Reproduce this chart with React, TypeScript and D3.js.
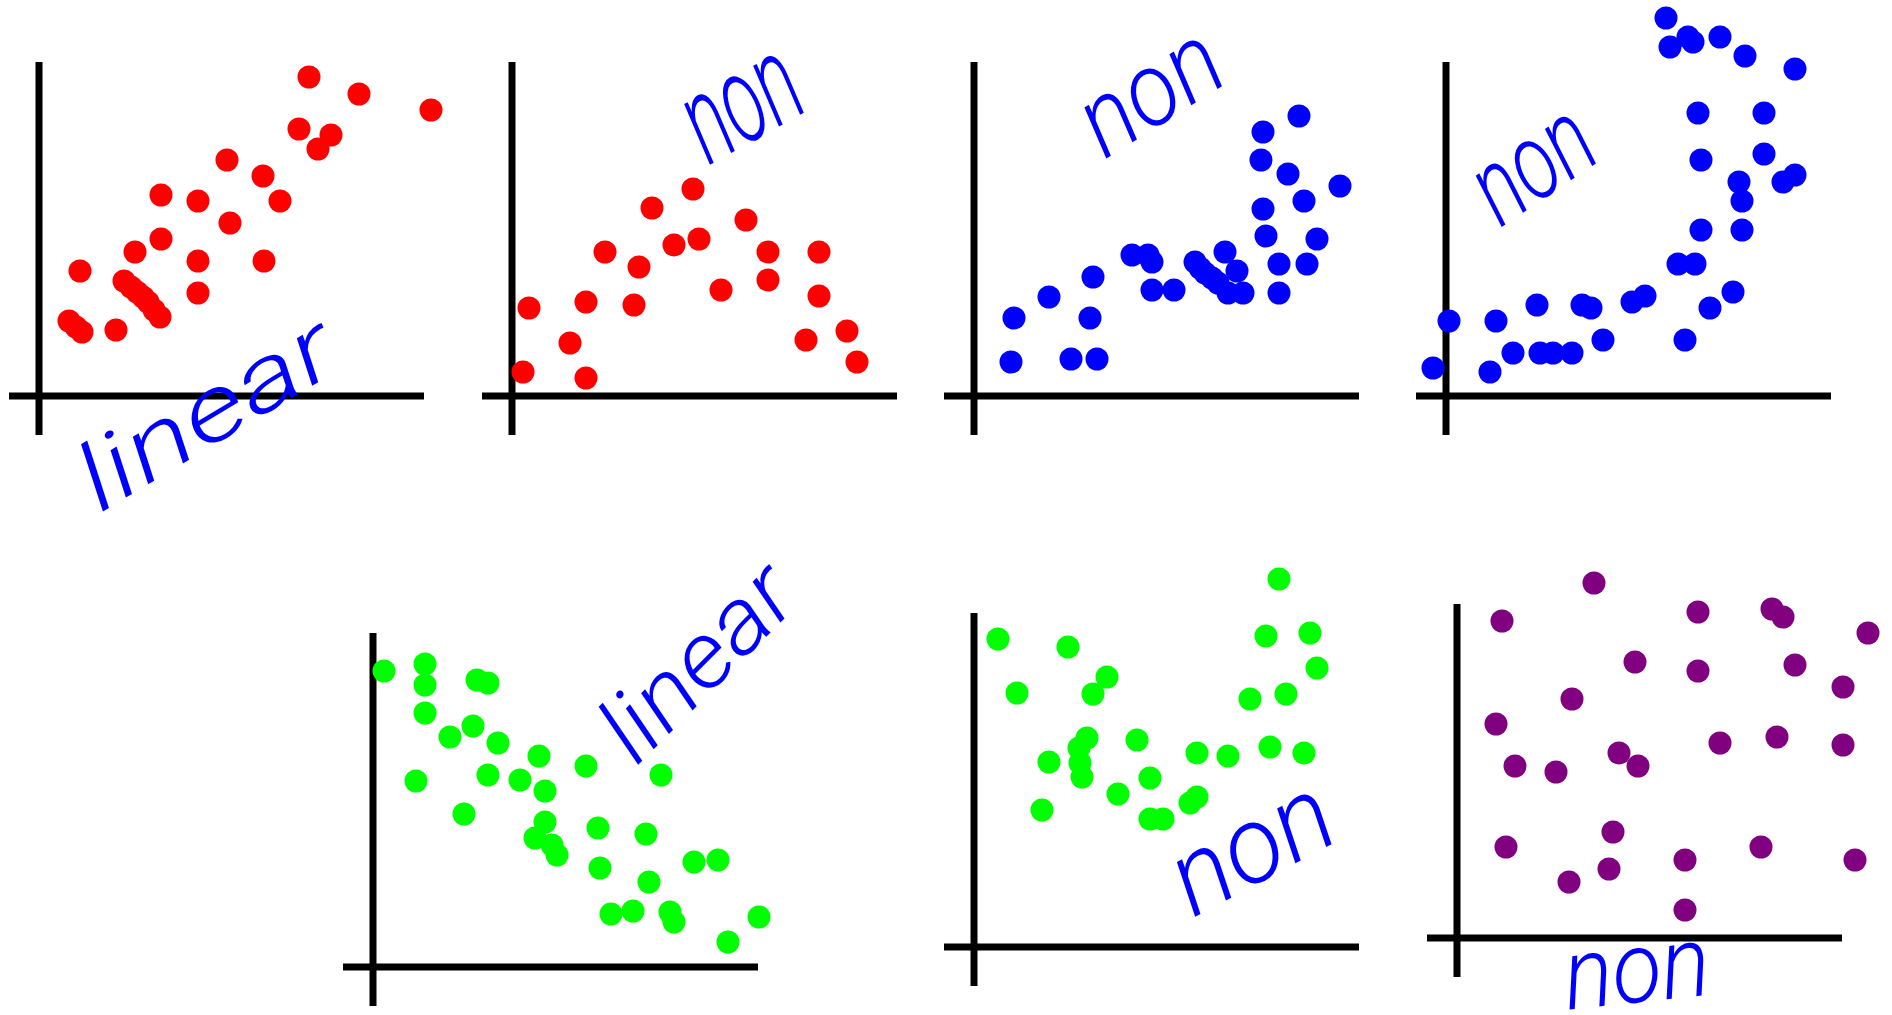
import React, { useEffect } from "react";
import * as d3 from "d3";

type Pt = [number, number];

// Values: offsets from each panel's axis origin (x right, y up)
const linearUp: Pt[] = [
  [270, 319], [320, 302], [392, 286], [260, 267], [292, 261], [279, 247], [188, 236],
  [224, 220], [122, 201], [159, 195], [241, 195], [191, 173], [122, 157], [96, 144],
  [159, 135], [225, 135], [41, 125], [85, 115], [92, 109], [98, 104], [104, 99], [109, 94],
  [115, 86], [121, 79], [159, 103], [30, 75], [37, 69], [43, 64], [77, 66],
];

const humpDown: Pt[] = [
  [181, 207], [140, 188], [234, 176], [162, 151], [187, 157], [93, 144], [256, 144],
  [307, 144], [127, 129], [209, 106], [256, 116], [74, 94], [122, 91], [307, 100],
  [17, 88], [58, 53], [294, 56], [335, 65], [345, 34], [11, 24], [74, 18],
];

const curveUp: Pt[] = [
  [325, 280], [289, 264], [287, 236], [314, 222], [366, 210], [330, 195], [289, 187],
  [292, 160], [343, 157], [305, 132], [333, 132], [305, 103], [251, 144], [263, 125],
  [158, 141], [174, 141], [178, 134], [221, 134], [226, 128], [231, 123], [238, 118],
  [244, 113], [254, 103], [269, 103], [178, 106], [200, 106], [119, 119], [75, 99],
  [40, 78], [116, 78], [37, 34], [97, 37], [123, 37],
];

const steepUp: Pt[] = [
  [220, 378], [224, 349], [242, 359], [247, 354], [274, 359], [299, 340], [349, 327],
  [252, 283], [318, 283], [255, 236], [318, 242], [293, 214], [296, 195], [337, 214],
  [349, 221], [255, 166], [296, 166], [232, 132], [249, 132], [287, 104], [264, 88],
  [239, 56], [186, 94], [199, 100], [136, 91], [145, 88], [91, 91], [50, 75], [3, 75],
  [-13, 28], [44, 24], [67, 43], [94, 43], [107, 43], [126, 43], [157, 56],
];

const linearDown: Pt[] = [
  [11, 296], [52, 303], [52, 282], [52, 254], [104, 287], [115, 284], [100, 241],
  [77, 230], [125, 224], [166, 211], [213, 201], [288, 192], [43, 186], [115, 192],
  [147, 187], [172, 176], [91, 153], [172, 145], [162, 129], [179, 122], [184, 112],
  [225, 139], [273, 133], [227, 99], [321, 105], [345, 107], [276, 85], [238, 53],
  [260, 56], [297, 55], [301, 45], [386, 50], [355, 25],
];

const uShape: Pt[] = [
  [305, 368], [24, 308], [94, 300], [292, 311], [336, 314], [133, 270], [119, 253],
  [43, 254], [343, 279], [276, 248], [312, 253], [113, 209], [105, 199], [163, 207],
  [75, 185], [106, 184], [108, 170], [223, 194], [254, 191], [296, 200], [330, 194],
  [176, 169], [144, 153], [68, 137], [176, 128], [189, 128], [223, 150], [216, 144],
];

const noRelation: Pt[] = [
  [137, 355], [45, 317], [241, 326], [315, 329], [326, 321], [411, 305], [178, 276],
  [241, 267], [338, 273], [386, 251], [115, 239], [39, 214], [263, 195], [320, 201],
  [386, 193], [58, 172], [99, 166], [162, 185], [181, 172], [156, 106], [49, 91],
  [304, 91], [398, 78], [228, 78], [152, 69], [112, 56], [228, 28],
];

const labels = ["linear", "non", "non", "non", "linear", "non", "non"];

const xDomain: [number, number] = [-30, 385];
const yDomain: [number, number] = [-39, 334];

interface Panel {
  ox: number;
  oy: number;
  color: string;
  points: Pt[];
  label: string;
  lx: number;
  ly: number;
  angle: number;
  fs: number;
  tl: number;
}

const panels: Panel[] = [
  { ox: 39, oy: 396, color: "#ff0000", points: linearUp, label: labels[0], lx: 222, ly: 440, angle: -31, fs: 92, tl: 285 },
  { ox: 512, oy: 396, color: "#ff0000", points: humpDown, label: labels[1], lx: 760, ly: 137, angle: -29, fs: 124, tl: 118 },
  { ox: 974, oy: 396, color: "#0000ff", points: curveUp, label: labels[2], lx: 1168, ly: 120, angle: -32, fs: 104, tl: 150 },
  { ox: 1446, oy: 396, color: "#0000ff", points: steepUp, label: labels[3], lx: 1552, ly: 193, angle: -34, fs: 108, tl: 125 },
  { ox: 373, oy: 967, color: "#00ff00", points: linearDown, label: labels[4], lx: 719, ly: 684, angle: -45, fs: 92, tl: 235 },
  { ox: 974, oy: 947, color: "#00ff00", points: uShape, label: labels[5], lx: 1268, ly: 878, angle: -28, fs: 108, tl: 170 },
  { ox: 1457, oy: 938, color: "#800080", points: noRelation, label: labels[6], lx: 1640, ly: 1002, angle: -6, fs: 100, tl: 146 },
];

function ScatterPanel({ p }: { p: Panel }) {
  const x = d3.scaleLinear().domain(xDomain).range([p.ox + xDomain[0], p.ox + xDomain[1]]);
  const y = d3.scaleLinear().domain(yDomain).range([p.oy - yDomain[0], p.oy - yDomain[1]]);
  return (
    <g>
      <line x1={x(xDomain[0])} x2={x(xDomain[1])} y1={y(0)} y2={y(0)} stroke="#000" strokeWidth={7} />
      <line x1={x(0)} x2={x(0)} y1={y(yDomain[0])} y2={y(yDomain[1])} stroke="#000" strokeWidth={7} />
      {p.points.map((d, i) => (
        <circle key={i} cx={x(d[0])} cy={y(d[1])} r={11.5} fill={p.color} />
      ))}
      <text
        transform={`translate(${p.lx},${p.ly}) rotate(${p.angle})`}
        textAnchor="middle"
        fontFamily="Roboto, 'DejaVu Sans', sans-serif"
        fontStyle="italic"
        fontWeight={300}
        fontSize={p.fs}
        textLength={p.tl}
        lengthAdjust="spacingAndGlyphs"
        fill="#0000ff"
      >
        {p.label}
      </text>
    </g>
  );
}

export default function App() {
  useEffect(() => {
    document.body.style.margin = "0";
    document.body.style.overflow = "hidden";
  }, []);
  return (
    <svg width={1892} height={1015} style={{ display: "block", background: "#fff" }}>
      <rect width={1892} height={1015} fill="#fff" />
      {panels.map((p, i) => (
        <ScatterPanel key={i} p={p} />
      ))}
    </svg>
  );
}
